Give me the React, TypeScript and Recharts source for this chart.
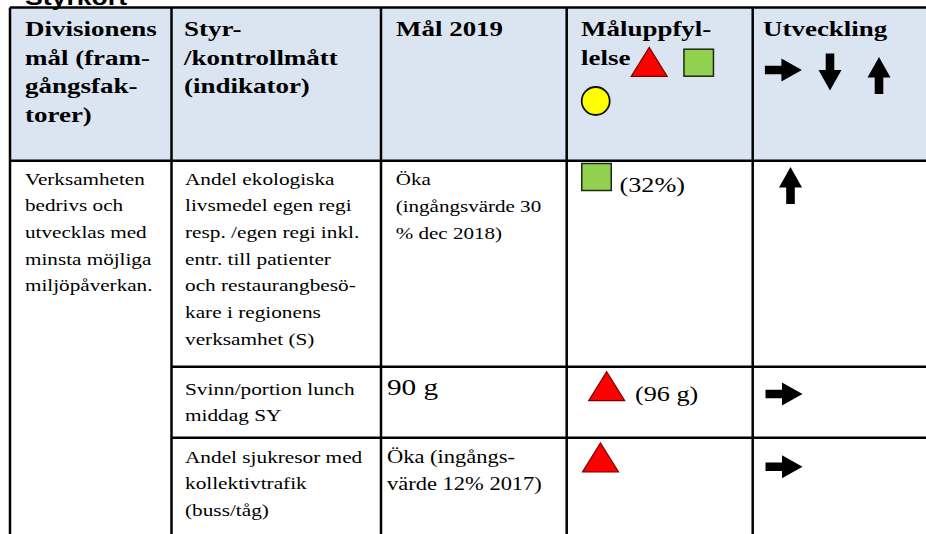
import React from 'react';
import { ScatterChart, XAxis, YAxis, Scatter, ReferenceLine, ReferenceArea } from 'recharts';

// ---------- content ----------
const titleText = 'Styrkort';
const headerLabels: string[][] = [
  ['Divisionens', 'mål (fram-', 'gångsfak-', 'torer)'],
  ['Styr-', '/kontrollmått', '(indikator)'],
  ['Mål 2019'],
  ['Måluppfyl-', 'lelse'],
  ['Utveckling'],
];
const legendStatus = ['triangle', 'square', 'circle'];
const legendTrend = ['right', 'down', 'up'];
const goalLines = ['Verksamheten', 'bedrivs och', 'utvecklas med', 'minsta möjliga', 'miljöpåverkan.'];
const indicatorLines: string[][] = [
  ['Andel ekologiska', 'livsmedel egen regi', 'resp. /egen regi inkl.', 'entr. till patienter', 'och restaurangbesö-', 'kare i regionens', 'verksamhet (S)'],
  ['Svinn/portion lunch', 'middag SY'],
  ['Andel sjukresor med', 'kollektivtrafik', '(buss/tåg)'],
];
const targetLines: string[][] = [
  ['Öka', '(ingångsvärde 30', '% dec 2018)'],
  ['90 g'],
  ['Öka (ingångs-', 'värde 12% 2017)'],
];
const statusSymbols = ['square', 'triangle', 'triangle'];
const statusValues = ['(32%)', '(96 g)', ''];
const trendArrows = ['up', 'right', 'right'];

// ---------- layout ----------
const W = 926;
const H = 534;
const colX = [10, 171.5, 381, 566.7, 752.7, 926];
const rowY = [7.5, 160.7, 366.7, 437.7, 534];
const headerPad = [15, 12.5, 15, 14.3, 10.3];
const headerFirst = 36;
const headerGap = 28.7;
const bodyFirst = [184.5, 395, 462.5];
const bodyGap = [26.7, 25.5, 26.7];
const SERIF = '"Liberation Serif", "Times New Roman", serif';
const SANS = '"Liberation Sans", Arial, sans-serif';

type TextPt = { x: number; y: number; text: string; fs: number; sx: number; bold: boolean; font: string };
type MarkPt = { x: number; y: number; kind: string };

const texts: TextPt[] = [];
texts.push({ x: 25, y: 5, text: titleText, fs: 22, sx: 1.21, bold: true, font: SANS });
headerLabels.forEach((lines, c) => {
  lines.forEach((t, k) => {
    texts.push({ x: colX[c] + headerPad[c], y: headerFirst + k * headerGap, text: t, fs: 21.5, sx: 1.255, bold: true, font: SERIF });
  });
});
goalLines.forEach((t, k) => {
  texts.push({ x: colX[0] + 15, y: bodyFirst[0] + k * 26.7, text: t, fs: 17.5, sx: 1.21, bold: false, font: SERIF });
});
indicatorLines.forEach((lines, r) => {
  lines.forEach((t, k) => {
    texts.push({ x: colX[1] + 13.5, y: bodyFirst[r] + k * bodyGap[r], text: t, fs: 17.6, sx: 1.21, bold: false, font: SERIF });
  });
});
const targetPad = [14.7, 6, 6];
const targetFs = [17.4, 22.5, 18.6];
const targetSx = [1.21, 1.3, 1.21];
const targetFirst = [185, 395, 462.5];
const targetGap = [27, 27, 27];
targetLines.forEach((lines, r) => {
  lines.forEach((t, k) => {
    texts.push({ x: colX[2] + targetPad[r], y: targetFirst[r] + k * targetGap[r], text: t, fs: targetFs[r], sx: targetSx[r], bold: false, font: SERIF });
  });
});
const valueX = [619.5, 635, 0];
const valueY = [192, 401, 0];
statusValues.forEach((t, r) => {
  if (t) texts.push({ x: valueX[r], y: valueY[r], text: t, fs: 21.5, sx: 1.22, bold: false, font: SERIF });
});

// symbol positions (centers)
const legendStatusPos = [
  { x: 649.2, y: 61.9 },
  { x: 698.7, y: 62.7 },
  { x: 595.7, y: 101 },
];
const legendTrendPos = [
  { x: 783.4, y: 70 },
  { x: 830, y: 72 },
  { x: 879, y: 75.5 },
];
const statusPos = [
  { x: 596.5, y: 177 },
  { x: 606.7, y: 386.2 },
  { x: 600.5, y: 457.5 },
];
const trendPos = [
  { x: 790.5, y: 185.5 },
  { x: 784, y: 394 },
  { x: 784, y: 466.7 },
];

const statusMarks: MarkPt[] = [
  ...legendStatus.map((k, i) => ({ x: legendStatusPos[i].x, y: legendStatusPos[i].y, kind: k })),
  ...statusSymbols.map((k, i) => ({ x: statusPos[i].x, y: statusPos[i].y, kind: k })),
];
const trendMarks: MarkPt[] = [
  ...legendTrend.map((k, i) => ({ x: legendTrendPos[i].x, y: legendTrendPos[i].y, kind: k })),
  ...trendArrows.map((k, i) => ({ x: trendPos[i].x, y: trendPos[i].y, kind: k })),
];

const TextShape = (props: any) => {
  const { cx, cy, payload } = props;
  if (cx == null || cy == null) return null;
  return (
    <text
      transform={`translate(${cx},${cy}) scale(${payload.sx},1)`}
      x={0}
      y={0}
      fontFamily={payload.font}
      fontSize={payload.fs}
      fontWeight={payload.bold ? 700 : 400}
      fill="#000"
    >
      {payload.text}
    </text>
  );
};

const StatusShape = (props: any) => {
  const { cx, cy, payload } = props;
  if (cx == null || cy == null) return null;
  if (payload.kind === 'triangle') {
    const w = 36, h = 29;
    return (
      <polygon
        points={`${cx},${cy - h / 2} ${cx + w / 2},${cy + h / 2} ${cx - w / 2},${cy + h / 2}`}
        fill="#ff0000"
        stroke="#7a0000"
        strokeWidth={1.2}
      />
    );
  }
  if (payload.kind === 'square') {
    const w = 29.5, h = 27;
    return <rect x={cx - w / 2} y={cy - h / 2} width={w} height={h} fill="#92d050" stroke="#1c2a10" strokeWidth={1.5} />;
  }
  return <circle cx={cx} cy={cy} r={14} fill="#ffff00" stroke="#111" strokeWidth={1.8} />;
};

const ArrowShape = (props: any) => {
  const { cx, cy, payload } = props;
  if (cx == null || cy == null) return null;
  const L = 37, head = 20.5, hw = 11.5, sw = 4.3;
  // arrow pointing right in local coordinates
  const pts = [
    [-L / 2, -sw],
    [L / 2 - head, -sw],
    [L / 2 - head, -hw],
    [L / 2, 0],
    [L / 2 - head, hw],
    [L / 2 - head, sw],
    [-L / 2, sw],
  ];
  const rot = payload.kind === 'right' ? 0 : payload.kind === 'down' ? 90 : -90;
  return (
    <polygon
      transform={`translate(${cx},${cy}) rotate(${rot})`}
      points={pts.map((p) => p.join(',')).join(' ')}
      fill="#000"
    />
  );
};

const lineSegs: { x1: number; y1: number; x2: number; y2: number }[] = [
  { x1: colX[0], y1: rowY[0], x2: W, y2: rowY[0] },
  { x1: colX[0], y1: rowY[1], x2: W, y2: rowY[1] },
  { x1: colX[1], y1: rowY[2], x2: W, y2: rowY[2] },
  { x1: colX[1], y1: rowY[3], x2: W, y2: rowY[3] },
  ...colX.slice(0, 5).map((x) => ({ x1: x, y1: rowY[0], x2: x, y2: H })),
];

export default function App() {
  return (
    <div style={{ position: 'absolute', left: 0, top: 0, width: W, height: H, background: '#fff' }}>
      <ScatterChart width={W} height={H} margin={{ top: 0, right: 0, bottom: 0, left: 0 }}>
        <XAxis type="number" dataKey="x" domain={[0, W]} allowDataOverflow hide />
        <YAxis type="number" dataKey="y" domain={[0, H]} allowDataOverflow reversed hide />
        <ReferenceArea x1={colX[0]} x2={W} y1={rowY[0]} y2={rowY[1]} fill="#dbe5f1" fillOpacity={1} stroke="none" ifOverflow="visible" />
        <Scatter data={texts} shape={TextShape} isAnimationActive={false} />
        <Scatter data={statusMarks} shape={StatusShape} isAnimationActive={false} />
        <Scatter data={trendMarks} shape={ArrowShape} isAnimationActive={false} />
        {lineSegs.map((s, i) => (
          <ReferenceLine
            key={i}
            segment={[{ x: s.x1, y: s.y1 }, { x: s.x2, y: s.y2 }]}
            stroke="#000"
            strokeWidth={2.5}
            ifOverflow="visible"
          />
        ))}
      </ScatterChart>
    </div>
  );
}
